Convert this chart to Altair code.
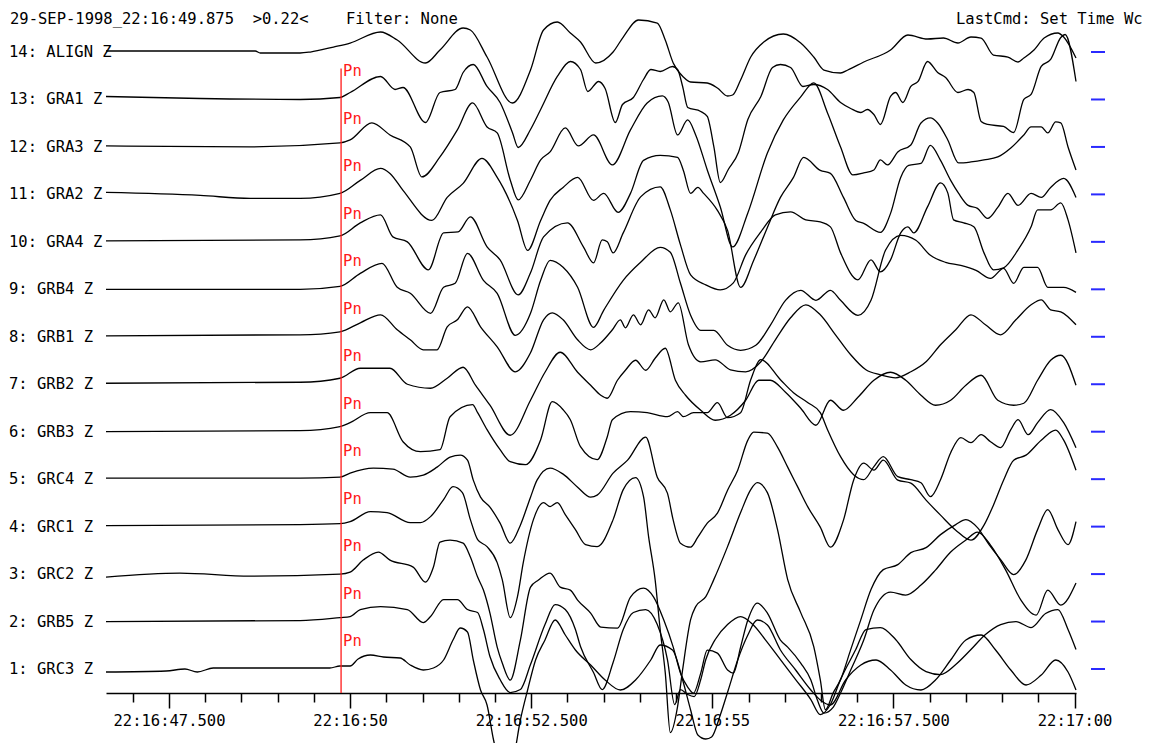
import altair as alt
import pandas as pd

FONT = "DejaVu Sans Mono"
SPACING = 47.46  # vertical distance between two channel baselines
NBSP = "\u00a0"

HEADER_LEFT = "29-SEP-1998_22:16:49.875  >0.22<    Filter: None".replace(" ", NBSP)
HEADER_RIGHT = "LastCmd: Set Time Wc".replace(" ", NBSP)

# channel rows from top to bottom: (row number, label)
ROWS = [
    (14, "14: ALIGN Z"), (13, "13: GRA1 Z"), (12, "12: GRA3 Z"), (11, "11: GRA2 Z"),
    (10, "10: GRA4 Z"), (9, "9: GRB4 Z"), (8, "8: GRB1 Z"), (7, "7: GRB2 Z"),
    (6, "6: GRB3 Z"), (5, "5: GRC4 Z"), (4, "4: GRC1 Z"), (3, "3: GRC2 Z"),
    (2, "2: GRB5 Z"), (1, "1: GRC3 Z"),
]

PICK_TIME = 49.875  # Pn pick, seconds after 22:16
PICK_ROWS = list(range(1, 14))

MAJOR_TICKS = [47.5, 50.0, 52.5, 55.0, 57.5, 60.0]
MINOR_STEP = 0.5

ALIGN = [(46.63, 1), (48.69, 1), (48.76, -1), (49.31, -1), (49.45, 0), (49.77, 5), (50.00, 9),
         (50.42, 20), (50.65, 12), (51.04, -11), (51.24, 2), (51.56, 24), (51.66, 22), (51.89, -5),
         (52.24, -51), (52.49, -18), (52.67, 22), (52.86, 30), (53.04, 19), (53.18, 10), (53.39, -11),
         (53.63, 0), (53.77, 15), (53.98, 32), (54.24, 29), (54.35, 12), (54.46, -11), (54.60, -25),
         (54.70, -30), (54.93, -31), (55.07, -36), (55.21, -44), (55.28, -43), (55.39, -28),
         (55.53, -5), (55.71, 10), (55.98, 18), (56.22, 9), (56.40, -5), (56.54, -18), (56.77, -21),
         (56.87, -18), (57.09, -10), (57.46, 2), (57.70, 17), (57.97, 13), (58.19, 14), (58.39, 9),
         (58.57, 15), (58.71, 14), (58.88, -3), (59.08, -5), (59.22, -10), (59.30, -6), (59.44, 2),
         (59.58, 14), (59.77, 19), (59.85, 15), (60.02, -6)]

GRA1 = [(46.63, 3), (47.93, 1), (49.31, 0), (49.86, 2), (50.00, 7), (50.42, 23), (50.62, 10),
        (50.73, 12), (51.04, -23), (51.24, 7), (51.45, 10), (51.56, 27), (51.70, 35), (51.89, 13),
        (52.07, -3), (52.24, -33), (52.32, -48), (52.49, -30), (52.63, -10), (52.86, 23), (53.04, 38),
        (53.18, 30), (53.28, 8), (53.43, 18), (53.52, 11), (53.66, -23), (53.76, -5), (53.91, 2),
        (54.05, 20), (54.15, 30), (54.28, 28), (54.45, 33), (54.52, 30), (54.59, 13), (54.66, -8),
        (54.84, -12), (54.93, -17), (55.02, -47), (55.11, -83), (55.22, -70), (55.36, -53),
        (55.49, -20), (55.67, 3), (55.83, 32), (55.94, 35), (56.08, 32), (56.25, 13), (56.40, 15),
        (56.59, 10), (56.77, -3), (56.91, -9), (57.05, -13), (57.14, -10), (57.23, -15), (57.32, -25),
        (57.46, 3), (57.53, 7), (57.63, -3), (57.74, 13), (57.84, 18), (57.97, 38), (58.11, 27),
        (58.22, 22), (58.39, 7), (58.53, 10), (58.61, 7), (58.71, -22), (58.80, -25), (59.02, -27),
        (59.16, -33), (59.30, 0), (59.40, 5), (59.54, 33), (59.67, 40), (59.81, 62), (59.87, 65),
        (60.02, 18)]

GRA3 = [(46.63, 1), (48.62, 0), (49.86, 4), (50.00, 7), (50.30, 24), (50.55, 12), (50.83, 0),
        (50.99, -30), (51.24, -10), (51.48, 17), (51.69, 44), (51.89, 20), (52.03, 14), (52.21, -33),
        (52.32, -53), (52.49, -33), (52.63, -13), (52.76, -5), (52.97, 19), (53.15, 1), (53.36, 12),
        (53.62, -18), (53.87, 17), (54.10, 44), (54.31, 51), (54.39, 45), (54.52, 12), (54.66, 27),
        (54.77, 12), (54.93, -23), (55.11, -60), (55.28, -100), (55.49, -66), (55.76, -6),
        (55.98, 27), (56.22, 50), (56.40, 64), (56.59, 34), (56.77, 0), (56.94, -28), (57.09, -26),
        (57.23, -23), (57.32, -13), (57.42, -18), (57.56, -5), (57.74, 2), (57.88, 24), (58.01, 29),
        (58.11, 24), (58.25, 7), (58.40, -16), (58.57, -15), (58.75, -13), (58.94, -10), (59.12, -1),
        (59.30, 12), (59.40, 20), (59.54, 20), (59.63, 14), (59.74, 25), (59.81, 24), (59.91, 0),
        (60.02, -23)]

GRA2 = [(46.63, 2), (47.93, -1), (48.62, -4), (49.31, -4), (49.86, 1), (50.14, 14), (50.42, 26),
        (50.55, 21), (50.73, 4), (51.13, -26), (51.34, -3), (51.56, 11), (51.82, 36), (52.03, 17),
        (52.11, 7), (52.31, -26), (52.45, -56), (52.63, -26), (52.76, -6), (52.94, 7), (53.14, 17),
        (53.36, -6), (53.50, 1), (53.70, -18), (53.87, 1), (54.05, 34), (54.28, 39), (54.52, 37),
        (54.60, 24), (54.70, 1), (54.80, 7), (54.88, 1), (55.07, -16), (55.21, -36), (55.39, -93),
        (55.57, -66), (55.76, -33), (55.94, -3), (56.12, 17), (56.26, 37), (56.49, 24), (56.63, 21),
        (56.81, -3), (56.98, -26), (57.09, -29), (57.32, -38), (57.46, -19), (57.60, 17), (57.71, 29),
        (57.88, 31), (58.01, 49), (58.15, 34), (58.29, 14), (58.40, 1), (58.53, -11), (58.66, -14),
        (58.80, -24), (58.94, -13), (59.08, 1), (59.22, -11), (59.40, 1), (59.54, -3), (59.67, 7),
        (59.85, 16), (60.02, -3)]

GRA4 = [(46.63, 1), (49.31, 2), (49.86, 6), (50.14, 19), (50.42, 27), (50.59, 5), (50.79, 0),
        (51.08, -28), (51.29, 9), (51.49, 10), (51.66, 25), (51.89, -5), (52.07, -18), (52.32, -53),
        (52.49, -31), (52.67, 5), (53.00, 19), (53.22, -5), (53.36, -21), (53.48, 2), (53.55, 0),
        (53.63, -11), (53.77, 9), (54.01, 45), (54.28, 55), (54.42, 32), (54.56, -3), (54.70, -33),
        (54.91, -43), (55.11, -48), (55.29, -41), (55.46, -13), (55.67, 10), (55.87, 27), (56.08, 30),
        (56.29, 22), (56.49, 20), (56.63, 15), (56.77, -11), (57.01, -38), (57.19, -18), (57.32, -30),
        (57.46, -18), (57.60, 9), (57.70, 15), (57.78, 9), (57.97, 35), (58.15, 59), (58.25, 49),
        (58.33, 22), (58.47, 19), (58.61, 15), (58.75, -11), (58.88, -28), (59.02, -26), (59.22, -8),
        (59.40, 15), (59.49, 32), (59.67, 32), (59.81, 39), (59.91, 22), (60.02, -11)]

GRB4 = [(46.63, 0), (49.31, 0), (49.86, 3), (50.14, 16), (50.44, 26), (50.65, 2), (50.83, -4),
        (51.11, -24), (51.29, 2), (51.45, 6), (51.62, 36), (51.84, 9), (52.03, -4), (52.28, -46),
        (52.49, -24), (52.63, 9), (52.76, 29), (52.94, 22), (53.14, 2), (53.36, -38), (53.50, -21),
        (53.77, 9), (54.01, 27), (54.28, 42), (54.42, 37), (54.56, 6), (54.70, -26), (54.84, -41),
        (55.02, -41), (55.21, -56), (55.39, -61), (55.60, -56), (55.80, -36), (56.01, -11),
        (56.22, -1), (56.43, -11), (56.63, -1), (56.77, -11), (57.01, -26), (57.19, -11), (57.39, 39),
        (57.60, 54), (57.81, 49), (58.01, 34), (58.22, 27), (58.43, 24), (58.64, 19), (58.84, 11),
        (59.02, 21), (59.16, 6), (59.30, 22), (59.49, 22), (59.63, 2), (59.85, 2), (60.02, -3)]

GRB1 = [(46.63, 1), (49.31, 2), (49.86, 5), (50.14, 14), (50.42, 22), (50.65, 7), (50.83, -3),
        (51.01, -13), (51.20, -13), (51.34, 10), (51.48, 17), (51.62, 30), (51.80, 10), (52.03, -10),
        (52.28, -35), (52.49, -16), (52.67, 17), (52.79, 24), (52.94, 17), (53.14, -3), (53.32, -13),
        (53.46, -6), (53.62, 7), (53.73, 17), (53.80, 9), (53.91, 22), (54.01, 12), (54.12, 27),
        (54.21, 19), (54.33, 37), (54.42, 25), (54.53, 34), (54.67, -8), (54.84, -25), (55.04, -23),
        (55.25, -33), (55.46, -35), (55.67, -25), (55.87, -3), (56.08, 19), (56.29, 32), (56.49, 22),
        (56.70, 2), (56.91, -18), (57.12, -33), (57.32, -38), (57.53, -41), (57.74, -35), (57.95, -25),
        (58.15, -8), (58.36, 7), (58.57, 22), (58.77, 12), (58.98, 2), (59.19, 17), (59.40, 32),
        (59.54, 37), (59.67, 27), (59.81, 25), (60.02, 12)]

GRB2 = [(46.63, 1), (49.31, 2), (49.86, 6), (50.14, 16), (50.55, 16), (50.79, 0), (51.11, -4),
        (51.34, 6), (51.56, 17), (51.73, -1), (51.93, -21), (52.21, -51), (52.49, -16), (52.69, 12),
        (52.90, 32), (53.14, 12), (53.32, -1), (53.46, -11), (53.55, -14), (53.69, 4), (53.80, 14),
        (53.94, 24), (54.08, 14), (54.21, 26), (54.35, 36), (54.49, 4), (54.63, -11), (54.84, -26),
        (55.04, -36), (55.25, -31), (55.46, -16), (55.64, 4), (55.80, 4), (56.01, -8), (56.22, -24),
        (56.43, -41), (56.63, -16), (56.81, -26), (57.01, -13), (57.23, 4), (57.46, 12), (57.67, 4),
        (57.88, -11), (58.08, -21), (58.29, -16), (58.50, -1), (58.71, 9), (58.94, -16), (59.16, -21),
        (59.30, -19), (59.49, 4), (59.67, 24), (59.81, 29), (60.02, -1)]

GRB3 = [(46.63, 0), (49.31, 1), (49.86, 5), (50.00, 9), (50.28, 19), (50.51, 19), (50.73, -10),
        (50.97, -20), (51.24, -18), (51.38, 15), (51.69, 27), (51.76, 19), (51.89, 2), (52.07, -18),
        (52.21, -30), (52.42, -33), (52.63, -8), (52.79, 30), (52.94, 22), (53.04, 12), (53.18, -15),
        (53.41, -28), (53.55, -5), (53.62, 12), (53.87, 20), (54.10, 19), (54.38, 15), (54.52, 20),
        (54.60, 15), (54.74, 19), (54.93, 19), (55.07, 29), (55.21, 14), (55.39, 19), (55.53, 52),
        (55.67, 72), (55.94, 52), (56.12, 39), (56.32, 29), (56.49, 19), (56.59, 2), (56.77, -25),
        (56.95, -43), (57.09, -48), (57.23, -35), (57.36, -25), (57.56, -45), (57.74, -48),
        (57.88, -51), (58.01, -65), (58.15, -48), (58.29, -21), (58.43, -6), (58.57, -11), (58.71, -3),
        (58.84, -10), (58.98, -16), (59.12, 2), (59.22, 12), (59.36, -3), (59.49, 9), (59.67, 22),
        (59.85, 9), (60.02, -16)]

GRC4 = [(46.63, 1), (49.31, 1), (49.86, 2), (50.00, 6), (50.32, 11), (50.59, 10), (50.83, 2),
        (51.01, 4), (51.20, 12), (51.38, 22), (51.52, 24), (51.62, 19), (51.70, -1), (51.80, -18),
        (51.93, -28), (52.07, -44), (52.21, -64), (52.35, -46), (52.49, -18), (52.58, -1), (52.76, 11),
        (52.94, 5), (53.14, -8), (53.32, -18), (53.41, -16), (53.63, 6), (53.83, 19), (54.08, 42),
        (54.24, 2), (54.38, -14), (54.46, -41), (54.56, -64), (54.70, -68), (54.80, -58), (54.93, -44),
        (55.07, -34), (55.21, -11), (55.35, 9), (55.49, 39), (55.57, 47), (55.76, 46), (55.90, 32),
        (56.04, 12), (56.18, -8), (56.32, -28), (56.49, -48), (56.63, -68), (56.81, -41), (56.95, -1),
        (57.09, 16), (57.23, 9), (57.36, 19), (57.56, -1), (57.74, -4), (57.95, -21), (58.15, -36),
        (58.36, -51), (58.57, -61), (58.75, -46), (58.88, -26), (59.02, -1), (59.16, 19), (59.33, 24),
        (59.54, 39), (59.74, 49), (59.85, 39), (60.02, 9)]

GRC1 = [(46.63, 1), (49.31, 2), (49.86, 3), (50.00, 5), (50.28, 15), (50.51, 14), (50.83, 4),
        (50.97, 4), (51.11, 10), (51.29, 27), (51.42, 40), (51.55, 34), (51.66, 7), (51.76, -13),
        (51.89, -20), (52.03, -36), (52.10, -53), (52.21, -91), (52.31, -70), (52.39, -36), (52.53, 7),
        (52.67, 24), (52.76, 20), (52.86, 24), (52.97, 12), (53.11, -3), (53.25, -18), (53.41, -20),
        (53.63, 7), (53.77, 37), (53.94, 49), (54.05, 30), (54.12, -10), (54.21, -53), (54.28, -103),
        (54.35, -146), (54.42, -206), (54.52, -180), (54.59, -143), (54.70, -93), (54.77, -80),
        (54.91, -70), (55.02, -53), (55.21, -20), (55.39, 14), (55.53, 37), (55.62, 44), (55.76, 34),
        (55.90, -3), (56.04, -53), (56.22, -86), (56.40, -120), (56.49, -153), (56.56, -183),
        (56.67, -166), (56.77, -153), (56.91, -123), (57.05, -93), (57.19, -63), (57.36, -43),
        (57.56, -38), (57.74, -26), (57.95, -21), (58.15, -8), (58.36, 2), (58.50, 7), (58.66, -1),
        (58.82, -18), (58.98, -33), (59.16, -48), (59.33, -33), (59.49, -3), (59.63, 17), (59.77, -3),
        (59.91, -18), (60.02, 5)]

GRC2 = [(46.63, -3), (47.65, 1), (48.62, -2), (49.86, 0), (50.00, 2), (50.18, 14), (50.39, 22),
        (50.55, 14), (50.87, 7), (51.04, -8), (51.15, 7), (51.24, 32), (51.38, 34), (51.56, 31),
        (51.66, 17), (51.76, -3), (51.84, -16), (51.93, -39), (52.03, -73), (52.10, -89), (52.21, -106),
        (52.35, -66), (52.49, -13), (52.60, -6), (52.76, 1), (52.90, -13), (53.04, -16), (53.14, -26),
        (53.32, -39), (53.46, -53), (53.69, -54), (53.87, -23), (54.05, -14), (54.19, -23), (54.33, -46),
        (54.46, -73), (54.56, -99), (54.66, -113), (54.74, -119), (54.84, -99), (54.93, -76),
        (55.07, -79), (55.21, -96), (55.29, -99), (55.39, -73), (55.49, -46), (55.62, -29), (55.76, -39),
        (55.94, -66), (56.04, -73), (56.22, -89), (56.36, -106), (56.45, -126), (56.54, -139),
        (56.67, -133), (56.77, -119), (56.91, -96), (57.09, -66), (57.23, -36), (57.46, -18),
        (57.67, -21), (57.88, -11), (58.08, 4), (58.29, 22), (58.50, 34), (58.66, 42), (58.84, 29),
        (59.05, 4), (59.26, -26), (59.47, -41), (59.63, -16), (59.81, -31), (60.02, -9)]

GRB5 = [(46.63, 0), (49.31, 1), (49.86, 4), (50.00, 5), (50.14, 12), (50.42, 15), (50.79, 12),
        (51.01, -1), (51.11, 5), (51.29, 22), (51.48, 22), (51.62, 12), (51.76, 9), (51.84, -8),
        (51.93, -35), (52.07, -58), (52.21, -71), (52.35, -68), (52.49, -43), (52.69, -3), (52.83, 17),
        (52.97, 12), (53.11, -8), (53.18, -25), (53.36, -51), (53.48, -68), (53.63, -41), (53.77, -8),
        (53.91, 9), (54.08, 12), (54.24, -3), (54.38, -38), (54.48, -83), (54.56, -68), (54.66, -73),
        (54.75, -75), (54.84, -58), (54.91, -38), (55.04, -18), (55.21, -3), (55.39, 5), (55.56, -3),
        (55.73, -18), (55.94, -38), (56.15, -58), (56.36, -78), (56.49, -93), (56.63, -83), (56.77, -58),
        (56.98, -28), (57.12, -8), (57.32, -6), (57.53, -18), (57.74, -38), (57.95, -50), (58.15, -53),
        (58.36, -43), (58.57, -28), (58.77, -13), (58.98, -3), (59.19, 0), (59.40, -6), (59.60, 8),
        (59.77, 12), (59.91, -8), (60.02, -28)]

GRC3 = [(46.63, -3), (47.46, -2), (47.72, 0), (47.89, -3), (48.11, 1), (49.72, 1), (49.86, 3),
        (50.00, 3), (50.11, 10), (50.28, 14), (50.46, 12), (50.69, 11), (50.83, 4), (51.01, -1),
        (51.15, 1), (51.29, 9), (51.42, 29), (51.52, 41), (51.62, 37), (51.70, 9), (51.80, -21),
        (51.89, -36), (51.98, -71), (52.07, -96), (52.17, -103), (52.25, -91), (52.35, -51),
        (52.45, -21), (52.56, 9), (52.69, 29), (52.83, 49), (52.97, 34), (53.11, 19), (53.32, 4),
        (53.52, -11), (53.73, -21), (53.94, -11), (54.15, 9), (54.28, 24), (54.45, 19), (54.59, -11),
        (54.70, -41), (54.80, -66), (54.91, -70), (54.99, -68), (55.11, -46), (55.22, -21), (55.35, 9),
        (55.49, 34), (55.62, 49), (55.76, 44), (55.94, 19), (56.15, -1), (56.36, -21), (56.49, -31),
        (56.63, -36), (56.84, -11), (57.05, 4), (57.26, 9), (57.46, -1), (57.67, -16), (57.88, -21),
        (58.08, -11), (58.29, 9), (58.50, 29), (58.71, 34), (58.91, 19), (59.12, -1), (59.33, -16),
        (59.54, -6), (59.74, 9), (59.91, -3), (60.02, -21)]

TRACES = {14: ALIGN, 13: GRA1, 12: GRA3, 11: GRA2, 10: GRA4, 9: GRB4, 8: GRB1,
          7: GRB2, 6: GRB3, 5: GRC4, 4: GRC1, 3: GRC2, 2: GRB5, 1: GRC3}

# ---- tables -------------------------------------------------------------
records = []
for row, samples in TRACES.items():
    for i, (t, a) in enumerate(samples):
        records.append({"row": row, "i": i, "t": t, "v": (row - 1) * SPACING + a})
traces = pd.DataFrame(records)

labels = pd.DataFrame([{"row": r, "name": n.replace(" ", NBSP), "v0": (r - 1) * SPACING}
                       for r, n in ROWS])
picks = pd.DataFrame([{"row": r, "t": PICK_TIME, "vp": (r - 1) * SPACING + 28} for r in PICK_ROWS])
pick_line = pd.DataFrame([{"t": PICK_TIME, "top": 12 * SPACING + 31, "bottom": -24}])

tick_values = [47.0 + MINOR_STEP * k for k in range(27)]

x_scale = alt.Scale(domain=[46.63, 60.02], nice=False, zero=False)
y_scale = alt.Scale(domain=[-24, 639], nice=False, zero=False)

label_expr = (
    "datum.value % 2.5 == 0 ? (datum.value >= 60 ? '22:17:00' : '22:16:' + "
    "(datum.value % 1 == 0 ? format(datum.value, '02d') : format(datum.value, '.3f'))) : ''"
)

x_axis = alt.Axis(
    values=tick_values, title=None, grid=False, labelExpr=label_expr,
    labelOverlap=False, labelFlush=False, labelFont=FONT, labelFontSize=15.5,
    labelColor="black", labelPadding=5,
    tickSize={"condition": {"test": "datum.value % 2.5 == 0", "value": 15}, "value": 9},
    tickColor="black", tickWidth=1.5, domainColor="black", domainWidth=1.5,
)
X = alt.X("t:Q", scale=x_scale, axis=x_axis)

lines = alt.Chart(traces).mark_line(
    color="black", strokeWidth=1.3, interpolate="monotone"
).encode(
    x=X,
    y=alt.Y("v:Q", scale=y_scale, axis=None),
    detail="row:N",
    order="i:Q",
)

pn_rule = alt.Chart(pick_line).mark_rule(color="#ff1a1a", strokeWidth=1.3).encode(
    x=X,
    y=alt.Y("top:Q", scale=y_scale, axis=None),
    y2="bottom:Q",
)

pn_text = alt.Chart(picks).mark_text(
    color="#ff1a1a", align="left", baseline="middle", dx=2, font=FONT, fontSize=15.5
).encode(
    x=X,
    y=alt.Y("vp:Q", scale=y_scale, axis=None),
    text=alt.value("Pn"),
)

names = alt.Chart(labels).mark_text(
    align="left", baseline="middle", font=FONT, fontSize=15.5, color="black"
).encode(
    x=alt.value(-97),
    y=alt.Y("v0:Q", scale=y_scale, axis=None),
    text="name:N",
)

dashes = alt.Chart(labels).mark_rule(color="#2a2aff", strokeWidth=2).encode(
    x=alt.value(985),
    x2=alt.value(999),
    y=alt.Y("v0:Q", scale=y_scale, axis=None),
)

head = pd.DataFrame([{"s": HEADER_LEFT}])
head_left = alt.Chart(head).mark_text(
    align="left", baseline="middle", font=FONT, fontSize=15.5, color="black"
).encode(x=alt.value(-96), y=alt.value(-11), text="s:N")

head_r = pd.DataFrame([{"s": HEADER_RIGHT}])
head_right = alt.Chart(head_r).mark_text(
    align="left", baseline="middle", font=FONT, fontSize=15.5, color="black"
).encode(x=alt.value(850), y=alt.value(-11), text="s:N")

chart = alt.layer(lines, pn_rule, names, dashes, pn_text, head_left, head_right).properties(
    width=970,
    height=663,
    autosize=alt.AutoSizeParams(type="none"),
    padding={"left": 98, "top": 22, "right": 67, "bottom": 50},
    background="white",
).configure_view(stroke="transparent")

chart.save("out.html", embed_options={"renderer": "svg", "actions": False})
